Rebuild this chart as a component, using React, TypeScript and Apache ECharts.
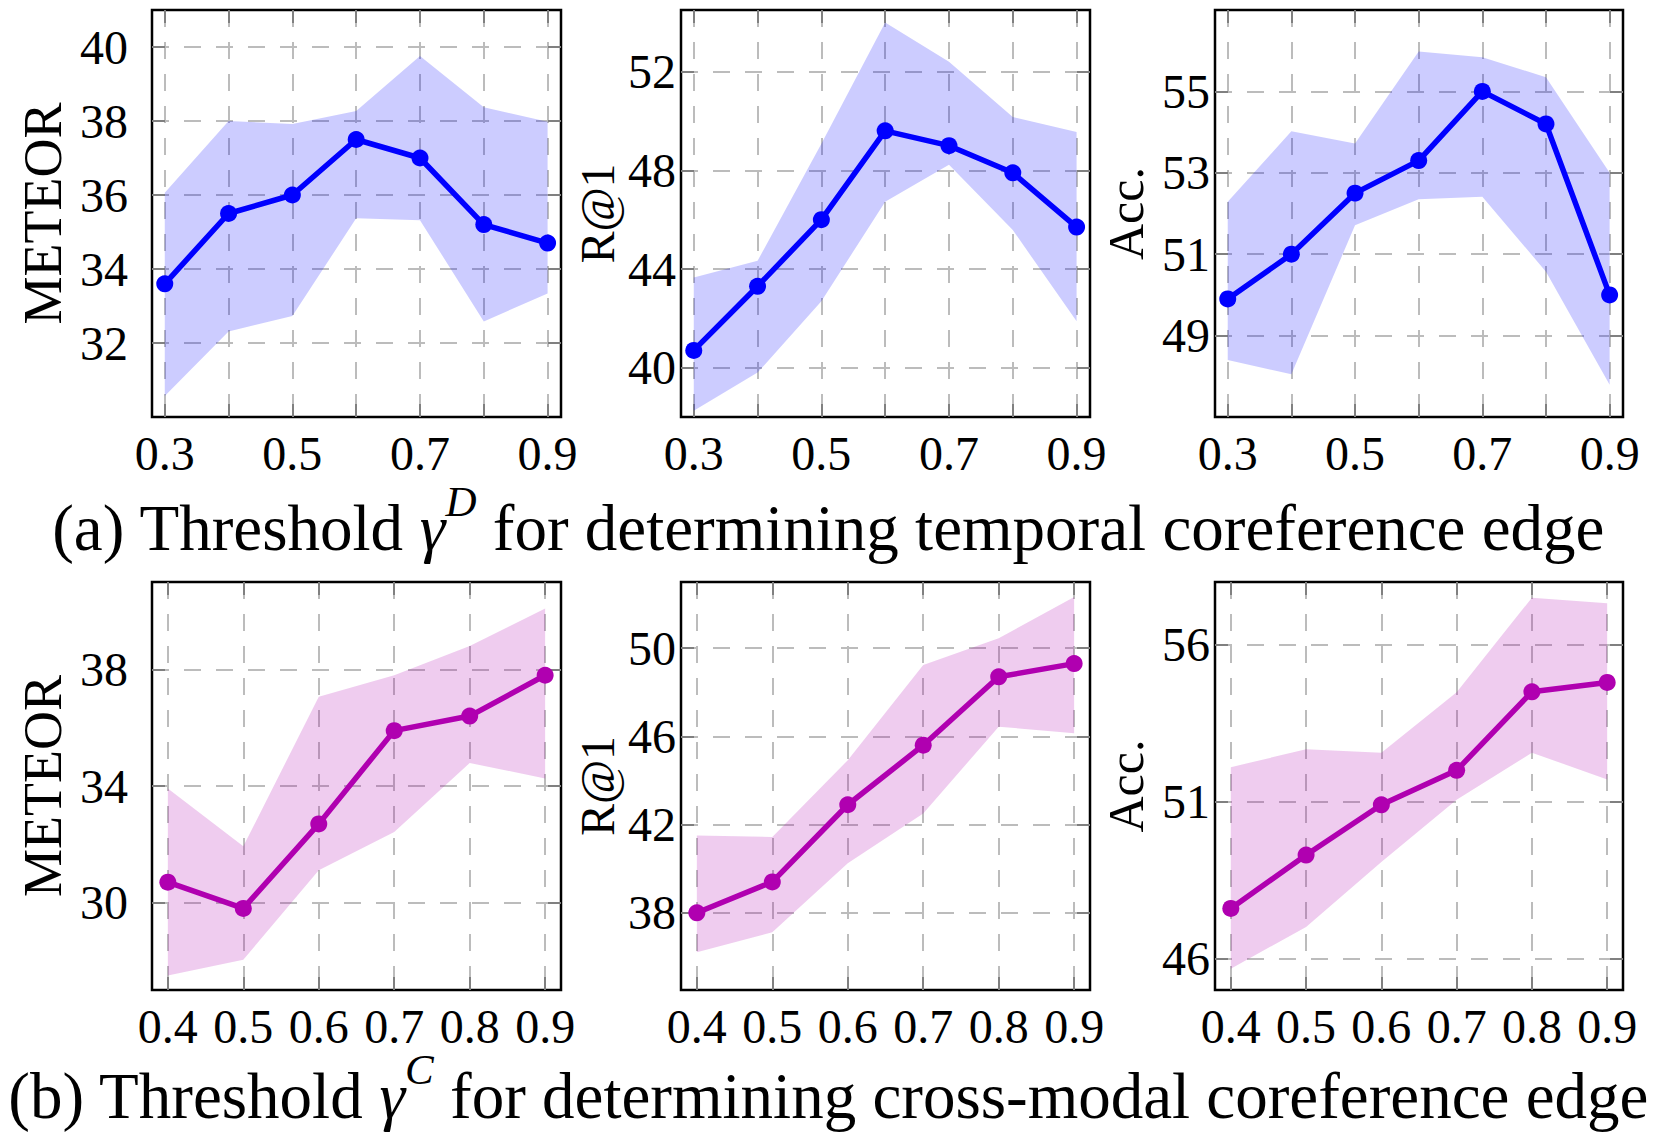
import React, { useEffect, useRef } from "react";
import * as echarts from "echarts";

// ---------------- data ----------------
const X_TOP = [0.3, 0.4, 0.5, 0.6, 0.7, 0.8, 0.9];
const X_BOTTOM = [0.4, 0.5, 0.6, 0.7, 0.8, 0.9];
const X_TOP_LABELS = [0.3, 0.5, 0.7, 0.9];
const X_BOTTOM_LABELS = [0.4, 0.5, 0.6, 0.7, 0.8, 0.9];

// (a) temporal threshold gamma^D
const A_METEOR_MEAN = [33.6, 35.5, 36.0, 37.5, 37.0, 35.2, 34.7];
const A_METEOR_UP = [36.06, 38.0, 37.92, 38.27, 39.76, 38.37, 37.98];
const A_METEOR_LO = [30.57, 32.31, 32.73, 35.37, 35.32, 32.58, 33.34];

const A_R1_MEAN = [40.7, 43.3, 46.0, 49.6, 49.0, 47.9, 45.7];
const A_R1_UP = [43.66, 44.33, 49.08, 53.99, 52.4, 50.16, 49.55];
const A_R1_LO = [38.25, 39.8, 42.69, 46.73, 48.23, 45.58, 41.88];

const A_ACC_MEAN = [49.9, 51.0, 52.5, 53.3, 55.0, 54.2, 50.0];
const A_ACC_UP = [52.29, 54.02, 53.72, 55.98, 55.84, 55.35, 53.0];
const A_ACC_LO = [48.4, 48.05, 51.71, 52.35, 52.41, 50.57, 47.79];

// (b) cross-modal threshold gamma^C
const B_METEOR_MEAN = [30.7, 29.8, 32.7, 35.9, 36.4, 37.8];
const B_METEOR_UP = [33.91, 31.93, 37.06, 37.8, 38.8, 40.09];
const B_METEOR_LO = [27.5, 28.04, 31.11, 32.42, 34.79, 34.26];

const B_R1_MEAN = [38.0, 39.4, 42.9, 45.6, 48.7, 49.3];
const B_R1_UP = [41.51, 41.44, 44.92, 49.24, 50.45, 52.32];
const B_R1_LO = [36.21, 37.12, 40.25, 42.5, 46.44, 46.14];

const B_ACC_MEAN = [47.6, 49.3, 50.9, 52.0, 54.5, 54.8];
const B_ACC_UP = [52.1, 52.67, 52.56, 54.49, 57.5, 57.32];
const B_ACC_LO = [45.68, 47.01, 49.08, 51.06, 52.56, 51.71];

// y tick values
const Y_TICKS = [
  [32, 34, 36, 38, 40],
  [40, 44, 48, 52],
  [49, 51, 53, 55],
  [30, 34, 38],
  [38, 42, 46, 50],
  [46, 51, 56],
];
const Y_RANGES = [
  [30, 41],
  [38, 54.5],
  [47, 57],
  [27, 41],
  [34.5, 53],
  [45, 58],
];
const Y_NAMES = ["METEOR", "R@1", "Acc.", "METEOR", "R@1", "Acc."];

const CAPTION_A = "(a) Threshold ";
const CAPTION_A_SUP = "D";
const CAPTION_A_REST = " for determining temporal coreference edge";
const CAPTION_B = "(b) Threshold ";
const CAPTION_B_SUP = "C";
const CAPTION_B_REST = " for determining cross-modal coreference edge";

// ---------------- style / layout ----------------
const FONT = "Liberation Serif, serif";
const BLUE = "#0000ff";
const PURPLE = "#b000b0";
const COL_LEFT = [152, 681, 1215];
const COL_WIDTH = [409, 409, 408];
const ROW_TOP = [10, 582];
const ROW_HEIGHT = [407, 408];
const Y_LABEL_MARGIN = [24, 5, 5];
const Y_NAME_GAP = [82, 60, 64];
const NAME_FONT = [54, 48, 50];
const TICK_FONT = 48;
const CAP_FONT = 65;

function hexToRgba(hex: string, a: number) {
  const r = parseInt(hex.slice(1, 3), 16);
  const g = parseInt(hex.slice(3, 5), 16);
  const b = parseInt(hex.slice(5, 7), 16);
  return `rgba(${r},${g},${b},${a})`;
}

function buildOption() {
  const panels = [
    { xs: X_TOP, mean: A_METEOR_MEAN, up: A_METEOR_UP, lo: A_METEOR_LO, color: BLUE },
    { xs: X_TOP, mean: A_R1_MEAN, up: A_R1_UP, lo: A_R1_LO, color: BLUE },
    { xs: X_TOP, mean: A_ACC_MEAN, up: A_ACC_UP, lo: A_ACC_LO, color: BLUE },
    { xs: X_BOTTOM, mean: B_METEOR_MEAN, up: B_METEOR_UP, lo: B_METEOR_LO, color: PURPLE },
    { xs: X_BOTTOM, mean: B_R1_MEAN, up: B_R1_UP, lo: B_R1_LO, color: PURPLE },
    { xs: X_BOTTOM, mean: B_ACC_MEAN, up: B_ACC_UP, lo: B_ACC_LO, color: PURPLE },
  ];

  const grid: any[] = [];
  const xAxis: any[] = [];
  const yAxis: any[] = [];
  const series: any[] = [];

  const tickStyle = { color: "#808080", width: 2 };
  const splitStyle = { color: "#bcbcbc", width: 2, type: [17, 15] };

  panels.forEach((p, i) => {
    const row = i < 3 ? 0 : 1;
    const col = i % 3;
    grid.push({
      left: COL_LEFT[col],
      top: ROW_TOP[row],
      width: COL_WIDTH[col],
      height: ROW_HEIGHT[row],
      show: true,
      borderColor: "#000",
      borderWidth: 2.5,
      backgroundColor: "transparent",
      containLabel: false,
    });
    const xMin = row === 0 ? 0.28 : 0.379;
    const xMax = 0.921;
    const xTickVals = row === 0 ? X_TOP : X_BOTTOM;
    const xLabelVals = row === 0 ? X_TOP_LABELS : X_BOTTOM_LABELS;
    xAxis.push({
      type: "value",
      gridIndex: i,
      position: "bottom",
      min: xMin,
      max: xMax,
      axisLine: { show: false },
      axisTick: { show: true, inside: true, length: 13, lineStyle: tickStyle, customValues: xTickVals },
      axisLabel: {
        show: true,
        customValues: xLabelVals,
        formatter: (v: number) => v.toFixed(1),
        fontFamily: FONT,
        fontSize: TICK_FONT,
        color: "#000",
        margin: 12,
      },
      splitLine: { show: true, lineStyle: splitStyle },
    });
    xAxis.push({
      type: "value",
      gridIndex: i,
      position: "top",
      min: xMin,
      max: xMax,
      axisLine: { show: false },
      axisTick: { show: true, inside: true, length: 13, lineStyle: tickStyle, customValues: xTickVals },
      axisLabel: { show: false },
      splitLine: { show: false },
    });
    yAxis.push({
      type: "value",
      gridIndex: i,
      position: "left",
      min: Y_RANGES[i][0],
      max: Y_RANGES[i][1],
      name: Y_NAMES[i],
      nameLocation: "middle",
      nameRotate: 90,
      nameGap: Y_NAME_GAP[col],
      nameTextStyle: { fontFamily: FONT, fontSize: NAME_FONT[col], color: "#000" },
      axisLine: { show: false },
      axisTick: { show: true, inside: true, length: 13, lineStyle: tickStyle, customValues: Y_TICKS[i] },
      axisLabel: {
        show: true,
        customValues: Y_TICKS[i],
        fontFamily: FONT,
        fontSize: TICK_FONT,
        color: "#000",
        margin: Y_LABEL_MARGIN[col],
      },
      splitLine: { show: true, lineStyle: splitStyle },
    });
    yAxis.push({
      type: "value",
      gridIndex: i,
      position: "right",
      min: Y_RANGES[i][0],
      max: Y_RANGES[i][1],
      axisLine: { show: false },
      axisTick: { show: true, inside: true, length: 13, lineStyle: tickStyle, customValues: Y_TICKS[i] },
      axisLabel: { show: false },
      splitLine: { show: false },
    });

    const fill = hexToRgba(p.color, 0.2);
    series.push({
      type: "custom",
      xAxisIndex: 2 * i,
      yAxisIndex: 2 * i,
      silent: true,
      z: 1,
      data: [[p.xs[0], p.up[0]]],
      renderItem: (_params: any, api: any) => {
        const pts: number[][] = [];
        for (let k = 0; k < p.xs.length; k++) pts.push(api.coord([p.xs[k], p.up[k]]));
        for (let k = p.xs.length - 1; k >= 0; k--) pts.push(api.coord([p.xs[k], p.lo[k]]));
        return { type: "polygon", shape: { points: pts }, style: { fill } };
      },
    });
    series.push({
      type: "line",
      xAxisIndex: 2 * i,
      yAxisIndex: 2 * i,
      z: 3,
      data: p.xs.map((x, k) => [x, p.mean[k]]),
      symbol: "circle",
      symbolSize: 17,
      showSymbol: true,
      itemStyle: { color: p.color },
      lineStyle: { color: p.color, width: 5.5 },
    });
  });

  const captionRich = {
    n: { fontFamily: FONT, fontSize: CAP_FONT, lineHeight: 80, verticalAlign: "bottom", fill: "#000" },
    g: { fontFamily: FONT, fontSize: CAP_FONT, fontStyle: "italic", lineHeight: 80, verticalAlign: "bottom", fill: "#000" },
    s: { fontFamily: FONT, fontSize: 43, fontStyle: "italic", lineHeight: 43, verticalAlign: "top", fill: "#000" },
  };

  const graphic = [
    {
      type: "text",
      x: 828,
      y: 480,
      style: {
        text: `{n|${CAPTION_A}}{g|γ}{s|${CAPTION_A_SUP}}{n|${CAPTION_A_REST}}`,
        rich: captionRich,
        align: "center",
        verticalAlign: "top",
        fill: "#000",
      },
    },
    {
      type: "text",
      x: 828,
      y: 1048,
      style: {
        text: `{n|${CAPTION_B}}{g|γ}{s|${CAPTION_B_SUP}}{n|${CAPTION_B_REST}}`,
        rich: captionRich,
        align: "center",
        verticalAlign: "top",
        fill: "#000",
      },
    },
  ];

  return {
    animation: false,
    backgroundColor: "#fff",
    grid,
    xAxis,
    yAxis,
    series,
    graphic,
  };
}

export default function App() {
  const ref = useRef<HTMLDivElement>(null);
  useEffect(() => {
    document.body.style.margin = "0";
    const chart = echarts.init(ref.current!, null, { renderer: "svg" });
    chart.setOption(buildOption() as any);
    return () => chart.dispose();
  }, []);
  return <div ref={ref} style={{ width: 1658, height: 1143 }} />;
}
